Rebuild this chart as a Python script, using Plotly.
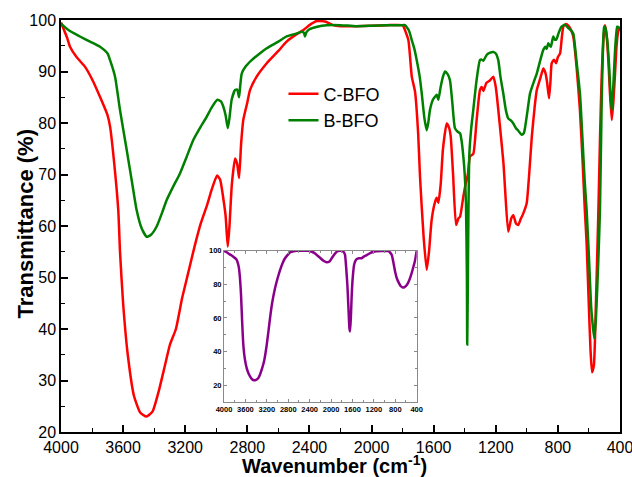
import plotly.graph_objects as go

# ---------------- data ----------------
c_bfo_wn = [4000, 3960, 3942, 3900, 3845, 3800, 3749, 3700, 3684, 3660, 3631, 3620, 3600, 3570, 3530,
            3490, 3450, 3410, 3370, 3330, 3298, 3260, 3220, 3180, 3140, 3100, 3060, 3030, 2995, 2975,
            2955, 2940, 2926, 2915, 2900, 2879, 2865, 2853, 2840, 2826, 2800, 2783, 2740, 2675, 2600,
            2547, 2480, 2441, 2400, 2353, 2300, 2248, 2200, 2100, 1900, 1800, 1795, 1763, 1741, 1720,
            1700, 1688, 1665, 1645, 1630, 1613, 1591, 1580, 1570, 1555, 1540, 1516, 1500, 1490, 1475,
            1456, 1440, 1430, 1409, 1395, 1380, 1366, 1345, 1325, 1302, 1290, 1280, 1260, 1240, 1216,
            1200, 1173, 1150, 1141, 1120, 1100, 1087, 1070, 1055, 1040, 1022, 1001, 985, 968, 950,
            936, 915, 894, 880, 870, 857, 848, 840, 825, 812, 800, 786, 775, 765, 750,
            730, 715, 701, 680, 658, 640, 628, 615, 600, 590, 580, 568, 555, 540, 528,
            518, 507, 497, 488, 475, 465, 453, 443, 433, 422, 412, 400]
c_bfo_t = [99.5, 96.5, 94.8, 92.8, 90.9, 88.5, 85.1, 81.5, 79.3, 73, 63, 55, 45, 35, 27,
           23.8, 23, 24, 28, 33, 37, 40, 46, 51, 56, 60.5, 64, 67, 69.8, 69,
           65.4, 62, 56, 60, 68, 73.1, 72, 69.3, 76, 80.6, 84, 86.4, 89, 91.6, 94,
           95.8, 97.3, 98, 99, 99.8, 99.7, 99, 98.8, 98.8, 99, 99, 98.8, 96.1, 89, 86.1,
           78, 69.6, 58, 51.5, 55, 61.2, 64.7, 65.5, 64.5, 68, 75, 79.9, 79, 77.3, 70,
           60.2, 61.5, 61.8, 65.7, 68, 70, 73.5, 74, 80, 86.4, 87, 86.2, 87.8, 88.2, 89,
           87, 79.3, 72, 67.6, 58.9, 61.5, 62.1, 60.5, 60.2, 61.3, 62.5, 64.4, 70, 77.3, 83,
           86.4, 88.5, 90.6, 89.7, 88, 84.8, 88, 91.6, 92.3, 91.6, 92.8, 93.5, 96.5, 98.7, 99.2,
           98.8, 98, 96.8, 91, 82.5, 72, 64, 56.6, 44, 36, 31.6, 33, 45, 62, 78,
           89, 96, 99, 97.5, 92.2, 86, 80.6, 84, 89, 95, 97.7, 98.5]

b_bfo_wn = [4000, 3950, 3878, 3813, 3749, 3700, 3684, 3652, 3620, 3577, 3540, 3513, 3480, 3448, 3420,
            3384, 3350, 3320, 3280, 3234, 3190, 3148, 3100, 3062, 3030, 2993, 2970, 2955, 2940, 2926,
            2915, 2901, 2879, 2865, 2853, 2845, 2836, 2810, 2772, 2720, 2675, 2600, 2547, 2480, 2450,
            2435, 2429, 2420, 2400, 2350, 2289, 2200, 2100, 2000, 1900, 1800, 1785, 1760, 1741, 1725,
            1709, 1690, 1677, 1660, 1645, 1635, 1624, 1605, 1591, 1580, 1570, 1555, 1540, 1527, 1510,
            1495, 1480, 1463, 1445, 1430, 1420, 1409, 1400, 1392, 1386, 1384, 1381, 1376, 1370, 1358,
            1345, 1325, 1302, 1290, 1280, 1259, 1240, 1216, 1200, 1184, 1170, 1152, 1135, 1120, 1100,
            1087, 1070, 1055, 1033, 1020, 1012, 995, 979, 955, 936, 915, 894, 880, 872, 862,
            856, 845, 830, 820, 810, 795, 776, 755, 735, 715, 701, 680, 658, 640, 628,
            615, 600, 585, 566, 555, 540, 529, 518, 510, 503, 495, 482, 470, 460, 453,
            445, 433, 425, 418, 405, 400]
b_bfo_t = [99.3, 98, 96.8, 95.8, 94.8, 93.5, 92.2, 89, 82.5, 74.8, 68, 63.1, 59.5, 57.9, 58.3,
           59.9, 62.5, 65, 67.5, 70.2, 73.5, 76.7, 79.3, 81.2, 83, 84.5, 84.2, 83.2, 81.5, 79,
           81, 84.5, 86.4, 86.5, 85, 87.5, 89.6, 91, 92.2, 93.5, 94.5, 95.8, 96.8, 97.4, 97.7,
           97.5, 96.8, 97.6, 98.2, 98.7, 99, 99, 98.8, 98.9, 99, 99, 99, 98, 96.1, 94.5,
           92.2, 89, 85.8, 81, 78.6, 80, 82.5, 84.5, 85.1, 85.5, 84.5, 87, 89, 90, 89.5,
           88.3, 84, 79, 78.3, 78, 76.5, 73.5, 70, 64.4, 50, 37, 45, 63, 74.1, 79,
           82.5, 88, 92.2, 92.3, 92.1, 93.2, 93.6, 93.8, 93.5, 92.2, 89, 85.8, 82.5, 80.9, 80.4,
           79.9, 79, 78.5, 77.7, 78, 79, 82.5, 85.8, 88, 89.6, 92, 94.2, 94.8, 94.4, 95.5,
           95.2, 94.8, 96.8, 96.2, 96.2, 97.5, 98.7, 99.1, 98.5, 98, 97.4, 92, 85.8, 76, 69,
           63.1, 54, 44, 38.2, 42, 53, 63.1, 84, 94, 98.7, 98.5, 96.1, 91, 85, 82.5,
           86, 93.5, 97, 98.7, 98.5, 98.3]

inset_wn = [4000, 3960, 3919, 3870, 3826, 3790, 3763, 3740, 3720, 3700, 3682, 3660, 3639, 3610, 3576,
            3545, 3514, 3475, 3439, 3400, 3358, 3325, 3296, 3270, 3246, 3225, 3202, 3170, 3140, 3100,
            3047, 3000, 2953, 2900, 2860, 2810, 2766, 2700, 2642, 2500, 2424, 2360, 2299, 2250, 2206,
            2140, 2081, 2030, 1988, 1940, 1894, 1840, 1800, 1770, 1750, 1738, 1720, 1695, 1675, 1657,
            1645, 1630, 1614, 1595, 1570, 1545, 1520, 1480, 1427, 1390, 1333, 1270, 1209, 1150, 1053,
            928, 900, 866, 835, 803, 765, 729, 700, 660, 620, 585, 545, 504, 465, 429, 400]
inset_t = [100, 99.3, 98.4, 97.4, 96.4, 95.5, 94.5, 92.5, 89.5, 83, 73.7, 57, 44, 35.5, 30.2,
           27.3, 25.3, 23.5, 22.9, 23.2, 24.3, 26.5, 29.2, 32, 35.2, 39, 44, 52, 59.9, 69,
           77.7, 83.5, 88.5, 93, 95.5, 97.5, 99, 99.7, 100, 100, 100, 99.4, 98.4, 97, 95.8,
           94, 93.1, 93.6, 95.5, 97.7, 99.4, 99.9, 100, 99.5, 98.5, 97.4, 91, 79.6, 66, 54,
           52, 60, 73.7, 84, 91.5, 94, 95, 95.5, 95.5, 96.5, 97.4, 98.6, 99.4, 99.7, 99.8,
           99.8, 99, 97.4, 93, 87.5, 83, 80.6, 79, 78.1, 78.5, 79.6, 82, 85.6, 90, 94.5, 100]

main_xticks = [4000, 3600, 3200, 2800, 2400, 2000, 1600, 1200, 800, 400]
main_yticks = [20, 30, 40, 50, 60, 70, 80, 90, 100]
inset_yticks = [20, 40, 60, 80, 100]

FONT = "Arial, Liberation Sans, sans-serif"

fig = go.Figure()
fig.add_trace(go.Scatter(x=c_bfo_wn, y=c_bfo_t, mode="lines", name="C-BFO",
                         line=dict(color="#FF0000", width=2.5, shape="spline", smoothing=0.5)))
fig.add_trace(go.Scatter(x=b_bfo_wn, y=b_bfo_t, mode="lines", name="B-BFO",
                         line=dict(color="#008000", width=2.5, shape="spline", smoothing=0.5)))
fig.add_trace(go.Scatter(x=inset_wn, y=inset_t, mode="lines", showlegend=False,
                         xaxis="x2", yaxis="y2",
                         line=dict(color="#8B008B", width=2.5, shape="spline", smoothing=0.5)))

axis_common = dict(showgrid=False, zeroline=False, showline=True, linecolor="black",
                   linewidth=1.5, mirror=True, ticks="inside", tickcolor="black",
                   tickwidth=1.5, ticklen=7, automargin=False, ticklabeloverflow="allow",
                   tickfont=dict(family=FONT, size=16, color="black"))

inset_common = dict(showgrid=False, zeroline=False, showline=True, automargin=False,
                    linecolor="#8a8a8a", linewidth=1, mirror="ticks", ticks="inside", ticklen=3,
                    tickcolor="#8a8a8a", ticklabeloverflow="allow",
                    tickfont=dict(family=FONT, size=7.5, color="black", weight="bold"))

fig.update_layout(
    width=632, height=477,
    margin=dict(l=61, r=12, t=20, b=45, autoexpand=False),
    paper_bgcolor="white", plot_bgcolor="white",
    font=dict(family=FONT, color="black"),
    xaxis=dict(range=[4000, 400], tickvals=main_xticks, domain=[0, 1],
               minor=dict(ticks="inside", dtick=200, tick0=0, ticklen=4, tickcolor="black", tickwidth=1.2),
               **axis_common),
    yaxis=dict(range=[20, 100], tickvals=main_yticks, domain=[0, 1],
               minor=dict(ticks="inside", dtick=5, tick0=0, ticklen=4, tickcolor="black", tickwidth=1.2),
               **axis_common),
    xaxis2=dict(range=[4000, 400], dtick=400, tick0=400, anchor="y2",
                domain=[0.2916, 0.6363],
                minor=dict(ticks="inside", dtick=200, tick0=0, ticklen=2, tickcolor="#8a8a8a"),
                **inset_common),
    yaxis2=dict(range=[10, 100], tickvals=inset_yticks, anchor="x2",
                domain=[0.0728, 0.44],
                minor=dict(ticks="inside", dtick=10, tick0=0, ticklen=2, tickcolor="#8a8a8a"),
                **inset_common),
    legend=dict(x=0.398, y=0.865, xanchor="left", yanchor="top", bgcolor="rgba(0,0,0,0)",
                font=dict(family=FONT, size=18, color="black"), tracegroupgap=0),
    annotations=[
        dict(text="<b>Wavenumber (cm<sup>-1</sup>)</b>", xref="paper", yref="paper",
             x=0.489, y=-0.078, xanchor="center", yanchor="middle", showarrow=False,
             font=dict(family=FONT, size=20, color="black")),
        dict(text="<b>Transmittance (%)</b>", xref="paper", yref="paper", textangle=-90,
             x=-0.0626, y=0.506, xanchor="center", yanchor="middle", showarrow=False,
             font=dict(family=FONT, size=22, color="black")),
    ],
)

fig.write_html("out.html")
